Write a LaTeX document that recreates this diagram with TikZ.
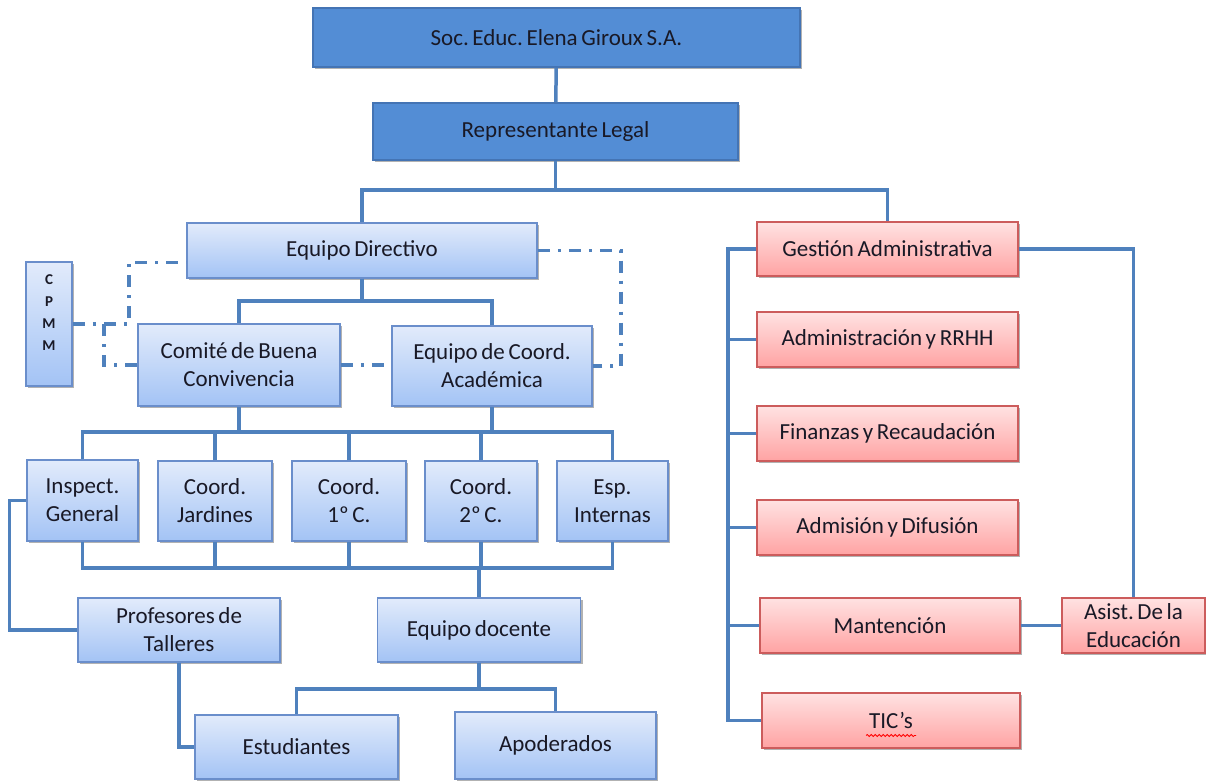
\documentclass[tikz,border=0pt]{standalone}
\usepackage{fontspec}
\setmainfont{Carlito}[WordSpace=0.7]
\usepackage{tikz}
\usetikzlibrary{shadows, decorations.pathmorphing}
\frenchspacing

\definecolor{darkfill}{RGB}{83,141,213}
\definecolor{darkline}{RGB}{68,116,180}
\definecolor{bluetop}{RGB}{226,235,251}
\definecolor{bluebot}{RGB}{163,195,245}
\definecolor{blueline}{RGB}{106,142,203}
\definecolor{pinktop}{RGB}{255,226,226}
\definecolor{pinkbot}{RGB}{255,163,163}
\definecolor{pinkline}{RGB}{204,92,92}
\definecolor{conn}{RGB}{79,129,189}
\definecolor{txt}{RGB}{25,25,38}

\begin{document}
\begin{tikzpicture}[
    x=1pt, y=-1pt,
    wh/.style 2 args={minimum width=#1pt, minimum height=#2pt},
    box/.style={rectangle, line width=1.5pt, inner sep=0pt, align=center, text=txt,
        font=\fontsize{23}{28}\selectfont,
        drop shadow={shadow xshift=2pt, shadow yshift=-2pt, opacity=.3, fill=black}},
    topbox/.style={box, draw=darkline, fill=darkfill},
    bluebox/.style={box, draw=blueline, top color=bluetop, bottom color=bluebot},
    pinkbox/.style={box, draw=pinkline, top color=pinktop, bottom color=pinkbot},
    link/.style={draw=conn, line width=3.5pt},
    dashdot/.style={link, dash pattern=on 12pt off 8pt on 3pt off 8pt}
]
    \fill [white] (0,0) rectangle (1206,780);
    \useasboundingbox (0,0) rectangle (1206,780);

    % top of the chart
    \node [topbox, wh={487}{59}] (soc) at (556.5,37.5) {Soc. Educ. Elena Giroux S.A.};
    \node [topbox, wh={365}{57}] (rep) at (555.5,131.5) {Representante Legal};

    % left branch
    \node [bluebox, wh={350}{55}] (dir) at (362,250.5) {Equipo Directivo};
    \node [bluebox, wh={202}{82}] (cbc) at (239,365) {Comité de Buena\\Convivencia};
    \node [bluebox, wh={200}{80}] (eca) at (492,366) {Equipo de Coord.\\Académica};
    \node [bluebox, wh={46}{124}, font=\fontsize{15}{22}\selectfont\bfseries] (cpmm) at (49,324) {C\\P\\M\\M\\\mbox{}};

    \node [bluebox, wh={111}{81}] (insp) at (82.5,500.5) {Inspect.\\General};
    \node [bluebox, wh={114}{80}] (cjar) at (215,501) {Coord.\\Jardines};
    \node [bluebox, wh={114}{80}] (c1) at (349,501) {Coord.\\1º C.};
    \node [bluebox, wh={112}{80}] (c2) at (481,501) {Coord.\\2º C.};
    \node [bluebox, wh={111}{80}] (esp) at (612.5,501) {Esp.\\Internas};

    \node [bluebox, wh={202}{64}] (prof) at (179,630) {Profesores de\\Talleres};
    \node [bluebox, wh={203}{64}] (doc) at (479,630) {Equipo docente};
    \node [bluebox, wh={203}{64}] (est) at (296.5,747) {Estudiantes};
    \node [bluebox, wh={201}{67}] (apo) at (555.5,745.5) {Apoderados};

    % right branch
    \node [pinkbox, wh={261}{54}] (gad) at (887.5,249) {Gestión Administrativa};
    \node [pinkbox, wh={261}{55}] (arh) at (887.5,339.5) {Administración y RRHH};
    \node [pinkbox, wh={261}{55}] (fin) at (887.5,433.5) {Finanzas y Recaudación};
    \node [pinkbox, wh={261}{55}] (adm) at (887.5,527.5) {Admisión y Difusión};
    \node [pinkbox, wh={260}{55}] (man) at (890,625.5) {Mantención};
    \node [pinkbox, wh={258}{55}] (tic) at (891,720.5) {TIC’s};
    \node [pinkbox, wh={143}{55}] (asi) at (1133.5,625.5) {Asist. De la\\Educación};
    \draw [red, line width=0.8pt, decorate, decoration={snake, amplitude=1pt, segment length=4pt}]
        ([xshift=-25pt, yshift=-15pt]tic.center) -- ([xshift=25pt, yshift=-15pt]tic.center);

    \coordinate (tb) at (0,432);
    \coordinate (bb) at (0,568);
    \coordinate (sp) at (728,0);
    \coordinate (cj) at (104,324);

    % connectors
    \draw [link] (soc) -- (rep);
    \draw [link] (rep.south) -- ++(0,29) -| (dir.north);
    \draw [link] (rep.south) -- ++(0,29) -| (gad.north);
    \draw [link] (dir.south) -- ++(0,22) -| (cbc.north);
    \draw [link] (dir.south) -- ++(0,22) -| (eca.north);

    \draw [link] (cbc.south) -- (cbc.south |- tb);
    \draw [link] (eca.south) -- (eca.south |- tb);
    \draw [link] (insp.north) -- (insp.north |- tb) -- (esp.north |- tb) -- (esp.north);
    \draw [link] (insp.south) -- (insp.south |- bb) -- (esp.south |- bb) -- (esp.south);
    \foreach \n in {cjar, c1, c2} {
        \draw [link] (\n.north) -- (\n.north |- tb);
        \draw [link] (\n.south) -- (\n.south |- bb);
    }
    \draw [link] (doc.north |- bb) -- (doc.north);
    \draw [link] (insp.west) -- ++(-17,0) |- (prof.west);
    \draw [link] (doc.south) -- ++(0,26) -| (est.north);
    \draw [link] (doc.south) -- ++(0,26) -| (apo.north);
    \draw [link] (prof.south) |- (est.west);

    \draw [link] (gad.west) -- (gad.west -| sp) |- (tic.west);
    \foreach \n in {arh, fin, adm, man}
        \draw [link] (\n.west) -- (\n.west -| sp);
    \draw [link] (gad.east) -| (asi.north);
    \draw [link] (man.east) -- (man.east -| asi.west);

    % dash-dot links
    \draw [dashdot] (cpmm.east) -- ++(56,0) |- ([yshift=-12pt]dir.west);
    \draw [dashdot] (cj) |- (cbc.west);
    \draw [dashdot] (cbc.east) -- (cbc.east -| eca.west);
    \draw [dashdot] (dir.east) -- ++(83,0) |- (eca.east);
\end{tikzpicture}
\end{document}
